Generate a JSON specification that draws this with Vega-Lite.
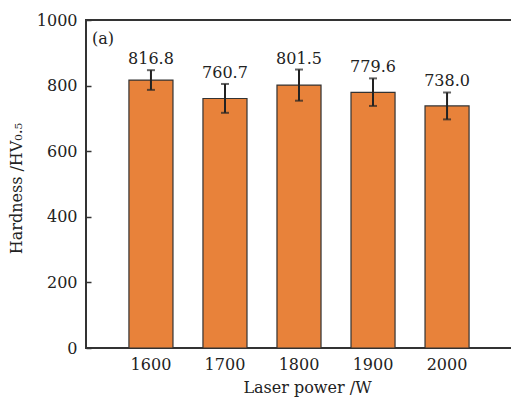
{
  "$schema": "https://vega.github.io/schema/vega-lite/v6.json",
  "width": 426,
  "height": 328,
  "autosize": {"type": "none"},
  "padding": {"left": 86, "top": 20, "right": 0, "bottom": 49},
  "background": "white",
  "title": {"text": "(a)", "anchor": "start", "frame": "group", "orient": "top", "offset": 0, "dx": 6, "dy": 48, "font": "DejaVu Serif", "fontSize": 16, "fontWeight": "normal", "color": "#222", "baseline": "alphabetic"},
  "config": {
    "font": "DejaVu Serif",
    "view": {"stroke": "#333", "strokeWidth": 2},
    "axis": {"labelFont": "DejaVu Serif", "titleFont": "DejaVu Serif", "labelFontSize": 16, "titleFontSize": 16, "titleFontWeight": "normal", "labelColor": "#222", "titleColor": "#222", "domain": false, "grid": false, "tickColor": "#333", "tickWidth": 1.5}
  },
  "data": {"values": [
    {"power": "1600", "hardness": 816.8, "low": 787, "high": 847, "label": "816.8"},
    {"power": "1700", "hardness": 760.7, "low": 717, "high": 805, "label": "760.7"},
    {"power": "1800", "hardness": 801.5, "low": 754, "high": 849, "label": "801.5"},
    {"power": "1900", "hardness": 779.6, "low": 738, "high": 822, "label": "779.6"},
    {"power": "2000", "hardness": 738.0, "low": 697, "high": 779, "label": "738.0"}
  ]},
  "encoding": {
    "x": {"field": "power", "type": "ordinal", "sort": null,
      "scale": {"paddingInner": 0.405, "paddingOuter": 0.58},
      "axis": {"title": "Laser power /W", "labelAngle": 0, "tickSize": -4, "labelPadding": 12, "titleX": 221, "titleY": 39, "titleBaseline": "middle", "titleAlign": "center"}}
  },
  "layer": [
    {"mark": {"type": "bar", "fill": "#E8823A", "stroke": "#333", "strokeWidth": 1.2},
     "encoding": {"y": {"field": "hardness", "type": "quantitative",
        "scale": {"domain": [0, 1000]},
        "axis": {"title": "Hardness /HV₀.₅", "values": [0, 200, 400, 600, 800, 1000], "format": "d", "tickSize": -5, "labelPadding": 14, "titleX": -70, "titleY": 168, "titleAngle": -90, "titleAlign": "center", "titleBaseline": "middle"}}}},
    {"mark": {"type": "rule", "color": "#222", "strokeWidth": 2},
     "encoding": {"y": {"field": "low", "type": "quantitative"}, "y2": {"field": "high"}}},
    {"mark": {"type": "tick", "color": "#222", "size": 8, "thickness": 2},
     "encoding": {"y": {"field": "low", "type": "quantitative"}}},
    {"mark": {"type": "tick", "color": "#222", "size": 8, "thickness": 2},
     "encoding": {"y": {"field": "high", "type": "quantitative"}}},
    {"mark": {"type": "text", "font": "DejaVu Serif", "fontSize": 16, "color": "#222", "baseline": "alphabetic", "dy": -6},
     "encoding": {"y": {"field": "high", "type": "quantitative"}, "text": {"field": "label"}}}
  ]
}
